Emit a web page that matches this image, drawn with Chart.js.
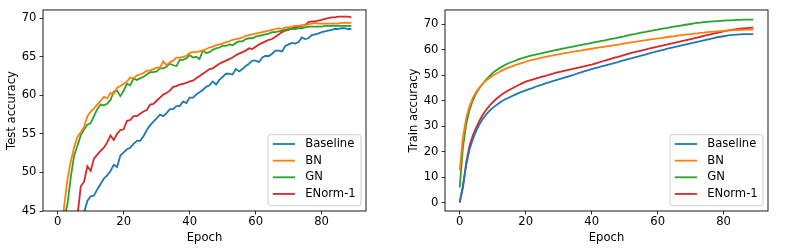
<!DOCTYPE html>
<html><head><meta charset="utf-8">
<script src="https://cdn.jsdelivr.net/npm/chart.js@4.4.1/dist/chart.umd.min.js"></script>
<style>
html,body{margin:0;padding:0;background:#fff;width:789px;height:248px;overflow:hidden}
#c1{position:absolute;left:0;top:0}
#c2{position:absolute;left:395px;top:0}
</style></head><body>
<canvas id="c1" width="395" height="248"></canvas>
<canvas id="c2" width="394" height="248"></canvas>
<script>
const epochs = Array.from({length: 90}, (_, i) => i);
const seriesNames = ['Baseline', 'BN', 'GN', 'ENorm-1'];
const seriesColors = ['#1f77b4', '#ff7f0e', '#2ca02c', '#d62728'];

const testBaseline = [10, 20, 27, 32, 36, 39, 41.5, 43.5, 44.8, 46.3,
 46.9, 47.0, 47.8, 48.5, 49.2, 49.6, 50.2, 51.0, 50.7, 52.2,
 52.6, 53.0, 53.2, 53.7, 54.1, 54.1, 54.7, 55.5, 56.1, 56.6,
 57.0, 57.5, 57.3, 57.7, 58.2, 58.2, 58.6, 58.6, 59.2, 59.0,
 59.7, 59.7, 60.1, 60.4, 60.7, 61.1, 61.3, 61.8, 61.4, 62.0,
 62.4, 62.8, 62.8, 62.7, 63.4, 63.1, 63.4, 63.8, 64.1, 64.5,
 64.5, 64.3, 64.9, 65.1, 65.1, 65.4, 65.8, 65.8, 65.7, 66.4,
 66.6, 66.8, 66.7, 66.9, 67.5, 67.3, 67.4, 67.8, 67.9, 68.0,
 68.2, 68.3, 68.4, 68.5, 68.6, 68.6, 68.7, 68.7, 68.6, 68.6];
const testBN = [25, 41.5, 45.8, 49.2, 51.5, 53.3, 54.6, 55.2, 55.9, 57.3,
 57.9, 58.3, 58.8, 59.3, 59.8, 59.6, 60.3, 60.2, 61.0, 61.2,
 61.5, 61.8, 62.3, 62.2, 62.6, 62.7, 62.9, 63.2, 63.2, 63.4,
 63.6, 63.6, 64.4, 63.9, 64.3, 64.5, 64.9, 64.9, 65.0, 65.1,
 65.5, 65.6, 65.6, 65.7, 65.8, 66.0, 66.2, 66.3, 66.5, 66.6,
 66.7, 66.9, 67.0, 67.2, 67.3, 67.4, 67.5, 67.7, 67.8, 67.9,
 68.0, 68.1, 68.2, 68.3, 68.4, 68.5, 68.6, 68.7, 68.6, 68.8,
 68.8, 68.9, 69.0, 69.0, 69.1, 69.1, 69.2, 69.3, 69.4, 69.3,
 69.3, 69.3, 69.3, 69.3, 69.3, 69.3, 69.4, 69.4, 69.4, 69.4];
const testGN = [20, 35, 44.0, 46.0, 49.5, 52.2, 53.5, 54.8, 55.6, 56.2,
 56.4, 57.3, 58.2, 58.8, 58.7, 58.9, 59.4, 60.5, 60.6, 59.9,
 60.6, 61.5, 61.3, 62.2, 62.0, 62.2, 62.4, 62.7, 63.0, 63.0,
 63.1, 63.5, 63.5, 63.7, 64.1, 63.9, 63.8, 64.6, 64.6, 64.8,
 65.2, 64.9, 65.0, 64.7, 65.8, 65.5, 65.6, 65.9, 66.1, 66.2,
 66.4, 66.4, 66.6, 66.5, 66.8, 67.0, 67.0, 67.3, 67.4, 67.4,
 67.6, 67.7, 67.8, 67.9, 68.0, 68.2, 68.2, 68.3, 68.4, 68.5,
 68.6, 68.6, 68.6, 68.7, 68.7, 68.8, 68.9, 68.9, 68.9, 68.9,
 68.9, 69.0, 69.0, 69.0, 69.0, 69.0, 69.0, 69.0, 69.0, 69.0];
const testENorm = [20, 28, 33, 37, 40, 42.5, 44.4, 48.2, 48.8, 50.8,
 50.2, 51.8, 52.3, 52.8, 53.2, 53.9, 54.8, 54.2, 55.0, 55.5,
 55.6, 56.7, 56.8, 57.3, 57.3, 57.6, 57.9, 58.1, 58.8, 58.9,
 59.3, 59.7, 60.1, 60.3, 60.6, 61.1, 61.2, 61.4, 61.5, 61.6,
 61.8, 61.9, 62.2, 62.5, 62.8, 63.1, 63.4, 63.5, 63.8, 64.1,
 64.3, 64.5, 64.7, 64.9, 65.2, 65.4, 65.6, 65.8, 66.1, 66.0,
 66.3, 66.6, 66.8, 67.0, 67.2, 67.3, 67.6, 67.9, 68.2, 68.4,
 68.5, 68.7, 68.8, 68.9, 69.0, 69.1, 69.5, 69.6, 69.6, 69.7,
 69.8, 69.9, 70.0, 70.1, 70.1, 70.2, 70.2, 70.2, 70.2, 70.1];

const trainBaseline = [0.5, 7.0, 15.0, 21.0, 25.0, 28.2, 30.8, 32.9, 34.6, 36.0,
 37.2, 38.2, 39.1, 40.0, 40.7, 41.3, 41.9, 42.5, 43.1, 43.6,
 44.1, 44.6, 45.0, 45.5, 45.9, 46.3, 46.8, 47.2, 47.6, 48.0,
 48.4, 48.8, 49.2, 49.6, 50.0, 50.4, 50.8, 51.2, 51.6, 52.0,
 52.4, 52.8, 53.1, 53.5, 53.8, 54.2, 54.5, 54.9, 55.2, 55.6,
 55.9, 56.3, 56.6, 57.0, 57.3, 57.7, 58.0, 58.4, 58.8, 59.1,
 59.5, 59.8, 60.1, 60.4, 60.7, 61.0, 61.3, 61.6, 61.9, 62.2,
 62.5, 62.8, 63.1, 63.4, 63.7, 64.0, 64.3, 64.6, 64.9, 65.1,
 65.3, 65.5, 65.7, 65.8, 65.9, 66.0, 66.1, 66.1, 66.1, 66.1];
const trainBN = [12.6, 26.0, 33.5, 38.0, 41.2, 43.5, 45.3, 46.7, 47.9, 48.9,
 49.8, 50.6, 51.3, 52.0, 52.6, 53.1, 53.6, 54.1, 54.5, 54.9,
 55.3, 55.7, 56.0, 56.3, 56.6, 56.9, 57.2, 57.5, 57.7, 58.0,
 58.2, 58.5, 58.7, 58.9, 59.2, 59.4, 59.6, 59.8, 60.0, 60.2,
 60.4, 60.6, 60.8, 61.0, 61.2, 61.4, 61.6, 61.8, 62.0, 62.2,
 62.5, 62.7, 62.9, 63.1, 63.3, 63.5, 63.7, 63.9, 64.1, 64.3,
 64.5, 64.6, 64.8, 65.0, 65.2, 65.3, 65.5, 65.7, 65.8, 66.0,
 66.1, 66.3, 66.4, 66.6, 66.7, 66.9, 67.0, 67.1, 67.2, 67.3,
 67.4, 67.5, 67.6, 67.7, 67.7, 67.8, 67.8, 67.9, 67.9, 67.9];
const trainGN = [6.0, 22.0, 31.0, 36.5, 40.2, 42.9, 45.0, 46.7, 48.3, 49.7,
 50.9, 51.9, 52.7, 53.5, 54.2, 54.8, 55.3, 55.8, 56.3, 56.7,
 57.1, 57.5, 57.8, 58.1, 58.4, 58.7, 59.0, 59.3, 59.6, 59.9,
 60.1, 60.4, 60.6, 60.9, 61.1, 61.4, 61.7, 61.9, 62.2, 62.4,
 62.7, 63.0, 63.2, 63.5, 63.7, 64.0, 64.3, 64.5, 64.8, 65.0,
 65.3, 65.6, 65.9, 66.1, 66.4, 66.7, 66.9, 67.2, 67.4, 67.7,
 67.9, 68.2, 68.4, 68.6, 68.9, 69.1, 69.3, 69.5, 69.7, 69.9,
 70.1, 70.3, 70.5, 70.6, 70.8, 70.9, 71.0, 71.1, 71.2, 71.3,
 71.4, 71.5, 71.5, 71.6, 71.7, 71.7, 71.8, 71.8, 71.8, 71.8];
const trainENorm = [0.0, 6.0, 16.0, 22.5, 26.5, 29.5, 32.2, 34.5, 36.4, 38.0,
 39.4, 40.6, 41.7, 42.7, 43.5, 44.2, 44.9, 45.6, 46.3, 46.9,
 47.5, 47.9, 48.3, 48.7, 49.1, 49.5, 49.8, 50.2, 50.5, 50.9,
 51.2, 51.5, 51.8, 52.1, 52.4, 52.7, 53.0, 53.3, 53.6, 53.9,
 54.2, 54.6, 55.0, 55.4, 55.7, 56.1, 56.5, 56.9, 57.2, 57.6,
 58.0, 58.4, 58.8, 59.1, 59.4, 59.7, 60.0, 60.3, 60.6, 60.9,
 61.2, 61.5, 61.8, 62.1, 62.4, 62.7, 63.0, 63.3, 63.6, 63.9,
 64.2, 64.5, 64.8, 65.1, 65.4, 65.7, 66.0, 66.3, 66.6, 66.9,
 67.2, 67.5, 67.7, 67.9, 68.1, 68.3, 68.4, 68.5, 68.6, 68.7];

const xTicks = [0, 20, 40, 60, 80];
const testYTicks = [45, 50, 55, 60, 65, 70];
const trainYTicks = [0, 10, 20, 30, 40, 50, 60, 70];

const FONT = 'DejaVu Sans';
const FS = 11.6;
Chart.defaults.font.family = FONT;
Chart.defaults.font.size = FS;
Chart.defaults.color = '#000';

const framePlugin = {
  id: 'frame',
  afterDatasetsDraw(chart) {
    const {ctx, chartArea: a} = chart;
    ctx.save();
    ctx.strokeStyle = '#000';
    ctx.lineWidth = 0.9;
    ctx.strokeRect(a.left, a.top, a.right - a.left, a.bottom - a.top);
    ctx.restore();
  }
};

const legendPlugin = {
  id: 'mplLegend',
  afterDraw(chart) {
    const {ctx, chartArea: a} = chart;
    const w = 93, h = 71;
    const x0 = a.right - 5 - w, y0 = a.bottom - 5.3 - h;
    ctx.save();
    ctx.beginPath();
    ctx.roundRect(x0, y0, w, h, 2.5);
    ctx.fillStyle = 'rgba(255,255,255,0.8)';
    ctx.fill();
    ctx.strokeStyle = '#cccccc';
    ctx.lineWidth = 1;
    ctx.stroke();
    ctx.font = FS + 'px "' + FONT + '"';
    ctx.textBaseline = 'middle';
    ctx.textAlign = 'left';
    chart.data.datasets.forEach((ds, i) => {
      const y = y0 + 9.3 + i * 16.65;
      ctx.strokeStyle = ds.borderColor;
      ctx.lineWidth = 1.8;
      ctx.beginPath();
      ctx.moveTo(x0 + 4.8, y);
      ctx.lineTo(x0 + 27, y);
      ctx.stroke();
      ctx.fillStyle = '#000';
      ctx.fillText(ds.label, x0 + 37.2, y);
    });
    ctx.restore();
  }
};

function makeChart(id, arrays, yMin, yMax, yTicks, yTitle, yAxisWidth, padRight, titlePad) {
  return new Chart(document.getElementById(id), {
    type: 'line',
    data: {
      datasets: seriesNames.map((n, i) => ({
        label: n,
        data: epochs.map((e, j) => ({x: e, y: arrays[i][j]})),
        borderColor: seriesColors[i],
        backgroundColor: seriesColors[i],
        borderWidth: 1.8,
        pointRadius: 0,
        fill: false,
        tension: 0,
        clip: 0
      }))
    },
    options: {
      responsive: false,
      animation: false,
      devicePixelRatio: 1,
      layout: {padding: {left: 0, top: 9, right: padRight, bottom: 0}},
      plugins: {legend: {display: false}, tooltip: {enabled: false}},
      scales: {
        x: {
          type: 'linear', min: -4.45, max: 93.45,
          afterBuildTicks: s => { s.ticks = xTicks.map(v => ({value: v})); },
          afterFit: s => { s.height = 37; },
          grid: {drawOnChartArea: false, drawTicks: true, tickLength: 3.5, color: '#000', lineWidth: 0.8},
          border: {display: false},
          ticks: {color: '#000', padding: 1, maxRotation: 0, autoSkip: false},
          title: {display: true, text: 'Epoch', color: '#000', padding: {top: 0, bottom: 3.2}}
        },
        y: {
          type: 'linear', min: yMin, max: yMax,
          afterBuildTicks: s => { s.ticks = yTicks.map(v => ({value: v})); },
          afterFit: s => { s.width = yAxisWidth; },
          grid: {drawOnChartArea: false, drawTicks: true, tickLength: 3.5, color: '#000', lineWidth: 0.8},
          border: {display: false},
          ticks: {color: '#000', padding: 3, autoSkip: false},
          title: {display: true, text: yTitle, color: '#000', padding: {top: titlePad, bottom: 0}}
        }
      }
    },
    plugins: [framePlugin, legendPlugin]
  });
}

makeChart('c1', [testBaseline, testBN, testGN, testENorm], 45, 71.07, testYTicks, 'Test accuracy', 43, 29, 5.4);
makeChart('c2', [trainBaseline, trainBN, trainGN, trainENorm], -3.2, 75.6, trainYTicks, 'Train accuracy', 50, 21, 12.4);
</script>
</body></html>
